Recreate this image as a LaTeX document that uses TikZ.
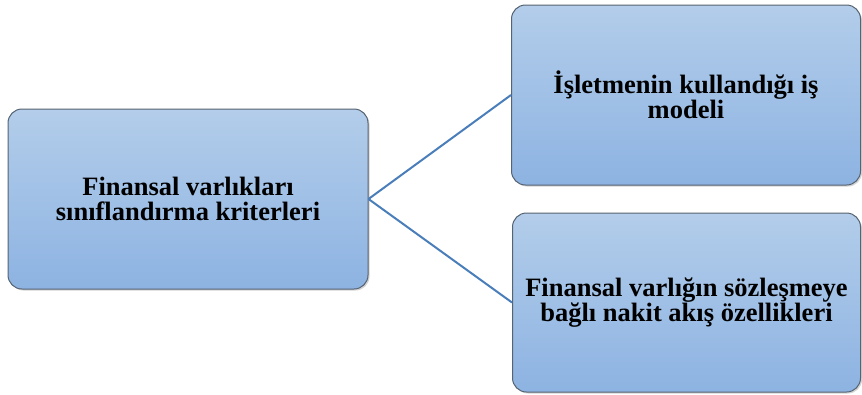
\documentclass[tikz,border=0pt]{standalone}
\usepackage{fontspec}
\setmainfont{Liberation Serif}
\usetikzlibrary{shadows}
\definecolor{boxtop}{HTML}{B3CDEA}
\definecolor{boxbot}{HTML}{8DB3E2}
\definecolor{boxline}{HTML}{566372}
\definecolor{conn}{HTML}{4A7EBB}
\begin{document}
\begin{tikzpicture}[x=1pt,y=-1pt,
  gbox/.style={draw=boxline, line width=1pt, rounded corners=14pt,
    top color=boxtop, bottom color=boxbot, align=center,
    font=\fontsize{26.5}{25}\selectfont\bfseries, inner sep=0pt,
    drop shadow={shadow xshift=1.5pt, shadow yshift=-1.5pt, opacity=0.35, fill=gray}},
  conline/.style={draw=conn, line width=2pt}]
\useasboundingbox (0,0) rectangle (862,394);
\node[gbox, minimum width=360pt, minimum height=180pt] (root) at (188,199)
  {Finansal varlıkları\\sınıflandırma kriterleri};
\node[gbox, minimum width=349pt, minimum height=180pt] (a) at (686,95)
  {İşletmenin kullandığı iş\\modeli};
\node[gbox, minimum width=348pt, minimum height=179pt] (b) at (686.5,302.5)
  {Finansal varlığın sözleşmeye\\bağlı nakit akış özellikleri};
\draw[conline] (root.east) -- (a.west);
\draw[conline] (root.east) -- (b.west);
\end{tikzpicture}
\end{document}
